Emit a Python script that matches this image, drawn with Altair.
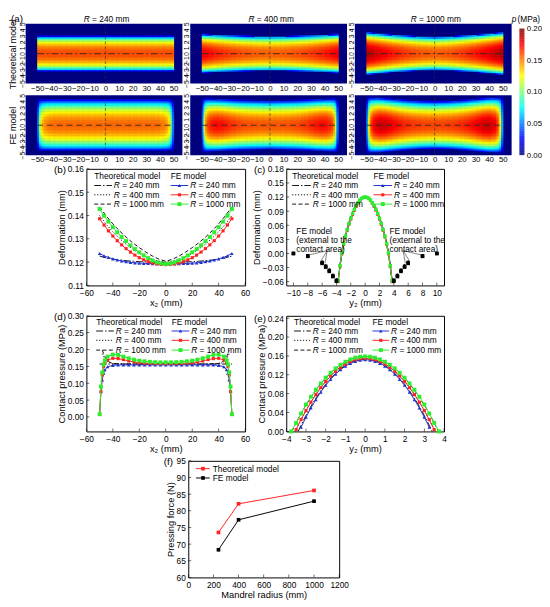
import altair as alt
import numpy as np
import pandas as pd

alt.data_transformers.disable_max_rows()

FONT = "Liberation Sans"
BLUE = "#2233cc"
RED = "#ff2222"
GREEN = "#2cee2c"
THEO = "#111111"
DUMMY = pd.DataFrame({"v": [0]})

# ---------------- (a) pressure maps: centre-line pressure (MPa) and half contact width (mm) ----------------
HX = [-50, -40, -30, -20, -10, 0, 10, 20, 30, 40, 50]
T240_P = [0.160, 0.160, 0.160, 0.160, 0.160, 0.160, 0.160, 0.160, 0.160, 0.160, 0.160]
T240_B = [2.90, 2.90, 2.90, 2.90, 2.90, 2.90, 2.90, 2.90, 2.90, 2.90, 2.90]
T400_P = [0.178, 0.170, 0.164, 0.160, 0.157, 0.156, 0.157, 0.160, 0.164, 0.170, 0.178]
T400_B = [3.20, 3.10, 3.00, 2.92, 2.87, 2.85, 2.87, 2.92, 3.00, 3.10, 3.20]
T1000_P = [0.190, 0.180, 0.171, 0.164, 0.159, 0.157, 0.159, 0.164, 0.171, 0.180, 0.190]
T1000_B = [3.50, 3.30, 3.10, 2.95, 2.82, 2.75, 2.82, 2.95, 3.10, 3.30, 3.50]
FE240_B = [4.30, 4.30, 4.30, 4.30, 4.30, 4.30, 4.30, 4.30, 4.30, 4.30, 4.30]
FE400_B = [4.50, 4.40, 4.30, 4.20, 4.15, 4.10, 4.15, 4.20, 4.30, 4.40, 4.50]
FE1000_B = [4.70, 4.60, 4.40, 4.20, 4.05, 4.00, 4.05, 4.20, 4.40, 4.60, 4.70]
CB_TICKS = [0.0, 0.05, 0.10, 0.15, 0.20]

# ---------------- (b) deformation along x2 ----------------
B_X = [-50, -46.67, -43.33, -40, -36.67, -33.33, -30, -26.67, -23.33, -20, -16.67, -13.33, -10, -6.67, -3.33, 0,
       3.33, 6.67, 10, 13.33, 16.67, 20, 23.33, 26.67, 30, 33.33, 36.67, 40, 43.33, 46.67, 50]
B_FE240 = [0.1237, 0.1227, 0.1220, 0.1214, 0.1209, 0.1205, 0.1202, 0.1199, 0.1197, 0.1196, 0.1195, 0.1194, 0.1193, 0.1193, 0.1192, 0.1192,
           0.1192, 0.1193, 0.1193, 0.1194, 0.1195, 0.1196, 0.1197, 0.1199, 0.1202, 0.1205, 0.1209, 0.1214, 0.1220, 0.1227, 0.1237]
B_FE400 = [0.1386, 0.1359, 0.1334, 0.1312, 0.1292, 0.1274, 0.1258, 0.1243, 0.1230, 0.1219, 0.1210, 0.1202, 0.1196, 0.1192, 0.1190, 0.1189,
           0.1190, 0.1192, 0.1196, 0.1202, 0.1210, 0.1219, 0.1230, 0.1243, 0.1258, 0.1274, 0.1292, 0.1312, 0.1334, 0.1359, 0.1386]
B_FE1000 = [0.1428, 0.1399, 0.1374, 0.1350, 0.1328, 0.1308, 0.1290, 0.1272, 0.1256, 0.1242, 0.1229, 0.1217, 0.1207, 0.1199, 0.1194, 0.1192,
            0.1194, 0.1199, 0.1207, 0.1217, 0.1229, 0.1242, 0.1256, 0.1272, 0.1290, 0.1308, 0.1328, 0.1350, 0.1374, 0.1399, 0.1428]
BT_X = [-50, -45, -40, -35, -30, -25, -20, -15, -10, -5, 0, 5, 10, 15, 20, 25, 30, 35, 40, 45, 50]
BT240 = [0.1226, 0.1218, 0.1213, 0.1209, 0.1206, 0.1204, 0.1202, 0.1201, 0.1200, 0.1199, 0.1199,
         0.1199, 0.1200, 0.1201, 0.1202, 0.1204, 0.1206, 0.1209, 0.1213, 0.1218, 0.1226]
BT400 = [0.1400, 0.1362, 0.1330, 0.1302, 0.1277, 0.1256, 0.1238, 0.1223, 0.1212, 0.1204, 0.1200,
         0.1204, 0.1212, 0.1223, 0.1238, 0.1256, 0.1277, 0.1302, 0.1330, 0.1362, 0.1400]
BT1000 = [0.1437, 0.1398, 0.1364, 0.1334, 0.1307, 0.1283, 0.1262, 0.1243, 0.1226, 0.1212, 0.1204,
          0.1212, 0.1226, 0.1243, 0.1262, 0.1283, 0.1307, 0.1334, 0.1364, 0.1398, 0.1437]

# ---------------- (c) deformation along y2 ----------------
C_Y = [-3.75, -3.5, -3.25, -3.0, -2.75, -2.5, -2.25, -2.0, -1.75, -1.5, -1.25, -1.0, -0.75, -0.5, -0.25, 0,
       0.25, 0.5, 0.75, 1.0, 1.25, 1.5, 1.75, 2.0, 2.25, 2.5, 2.75, 3.0, 3.25, 3.5, 3.75]
C_FE1000 = [-0.058, -0.026, 0.001, 0.021, 0.037, 0.051, 0.064, 0.075, 0.085, 0.094, 0.102, 0.108, 0.1135, 0.1172, 0.1193, 0.1200,
            0.1193, 0.1172, 0.1135, 0.108, 0.102, 0.094, 0.085, 0.075, 0.064, 0.051, 0.037, 0.021, 0.001, -0.026, -0.058]
C_FE400 = [-0.060, -0.028, -0.001, 0.019, 0.035, 0.049, 0.062, 0.073, 0.083, 0.092, 0.100, 0.107, 0.1125, 0.1165, 0.1190, 0.1197,
           0.1190, 0.1165, 0.1125, 0.107, 0.100, 0.092, 0.083, 0.073, 0.062, 0.049, 0.035, 0.019, -0.001, -0.028, -0.060]
C_FE240 = [-0.055, -0.023, 0.003, 0.023, 0.039, 0.053, 0.066, 0.077, 0.087, 0.096, 0.103, 0.109, 0.114, 0.1175, 0.1195, 0.1202,
           0.1195, 0.1175, 0.114, 0.109, 0.103, 0.096, 0.087, 0.077, 0.066, 0.053, 0.039, 0.023, 0.003, -0.023, -0.055]
CT_Y = [-3.75, -3.5, -3.25, -3.0, -2.5, -2.0, -1.5, -1.0, -0.5, 0, 0.5, 1.0, 1.5, 2.0, 2.5, 3.0, 3.25, 3.5, 3.75]
CT240 = [-0.056, -0.025, 0.002, 0.022, 0.052, 0.076, 0.095, 0.108, 0.117, 0.1202, 0.117, 0.108, 0.095, 0.076, 0.052, 0.022, 0.002, -0.025, -0.056]
CT400 = [-0.058, -0.027, 0.000, 0.020, 0.050, 0.074, 0.093, 0.107, 0.1168, 0.1200, 0.1168, 0.107, 0.093, 0.074, 0.050, 0.020, 0.000, -0.027, -0.058]
CT1000 = [-0.060, -0.029, -0.002, 0.018, 0.048, 0.072, 0.092, 0.106, 0.1165, 0.1198, 0.1165, 0.106, 0.092, 0.072, 0.048, 0.018, -0.002, -0.029, -0.060]
C_EXT_Y = [-10, -8, -6, -5.5, -5, -4.5, -4, 4, 4.5, 5, 5.5, 6, 8, 10]
C_EXT240 = [0.001, -0.004, -0.017, -0.025, -0.034, -0.045, -0.055, -0.055, -0.045, -0.034, -0.025, -0.017, -0.004, 0.001]
C_EXT400 = [0.000, -0.005, -0.019, -0.027, -0.036, -0.047, -0.057, -0.057, -0.047, -0.036, -0.027, -0.019, -0.005, 0.000]
C_EXT1000 = [0.000, -0.006, -0.021, -0.029, -0.038, -0.049, -0.059, -0.059, -0.049, -0.038, -0.029, -0.021, -0.006, 0.000]
ANN_X1 = [-5.3, -5.3, -5.3, 5.3, 5.3, 5.3]
ANN_Y1 = [0.006, 0.006, 0.006, 0.006, 0.006, 0.006]
ANN_X2 = [-7.8, -6.1, -5.6, 7.8, 6.1, 5.6]
ANN_Y2 = [-0.003, -0.014, -0.021, -0.003, -0.014, -0.021]
ANN_TEXT = "FE model\n(external to the\ncontact area)"

# ---------------- (d) contact pressure along x2 ----------------
D_X = [-50, -49, -48, -47, -46, -44, -40, -36, -32, -28, -24, -20, -16, -12, -8, -4, 0,
       4, 8, 12, 16, 20, 24, 28, 32, 36, 40, 44, 46, 47, 48, 49, 50]
D_FE240 = [0.008, 0.077, 0.110, 0.130, 0.140, 0.149, 0.153, 0.1545, 0.1545, 0.1545, 0.1545, 0.1545, 0.1545, 0.1545, 0.1545, 0.1545, 0.1545,
           0.1545, 0.1545, 0.1545, 0.1545, 0.1545, 0.1545, 0.1545, 0.1545, 0.1545, 0.153, 0.149, 0.140, 0.130, 0.110, 0.077, 0.008]
D_FE400 = [0.008, 0.075, 0.125, 0.150, 0.160, 0.169, 0.174, 0.173, 0.170, 0.166, 0.163, 0.161, 0.1595, 0.1588, 0.1583, 0.158, 0.158,
           0.158, 0.1583, 0.1588, 0.1595, 0.161, 0.163, 0.166, 0.170, 0.173, 0.174, 0.169, 0.160, 0.150, 0.125, 0.075, 0.008]
D_FE1000 = [0.008, 0.090, 0.132, 0.156, 0.168, 0.179, 0.185, 0.184, 0.179, 0.174, 0.170, 0.167, 0.165, 0.1635, 0.1625, 0.162, 0.162,
            0.162, 0.1625, 0.1635, 0.165, 0.167, 0.170, 0.174, 0.179, 0.184, 0.185, 0.179, 0.168, 0.156, 0.132, 0.090, 0.008]
DT240_X = [-50, 50]
DT240 = [0.157, 0.157]
DT_X = [-48, -47, -46, -45, -44, -42, -40, -30, 0, 30, 40, 42, 44, 45, 46, 47, 48]
DT400 = [0.188, 0.180, 0.173, 0.168, 0.164, 0.160, 0.158, 0.157, 0.157, 0.157, 0.158, 0.160, 0.164, 0.168, 0.173, 0.180, 0.188]
DT1000 = [0.198, 0.188, 0.179, 0.172, 0.167, 0.162, 0.159, 0.157, 0.157, 0.157, 0.159, 0.162, 0.167, 0.172, 0.179, 0.188, 0.198]

# ---------------- (e) contact pressure along y2 ----------------
E_Y1000 = [-3.75, -3.5, -3.25, -3.0, -2.75, -2.5, -2.25, -2.0, -1.75, -1.5, -1.25, -1.0, -0.75, -0.5, -0.25, 0,
           0.25, 0.5, 0.75, 1.0, 1.25, 1.5, 1.75, 2.0, 2.25, 2.5, 2.75, 3.0, 3.25, 3.5, 3.75]
E_FE1000 = [0.000, 0.018, 0.038, 0.057, 0.0735, 0.0883, 0.1018, 0.1138, 0.1244, 0.1336, 0.1413, 0.1477, 0.1526, 0.1562, 0.1583, 0.159,
            0.1583, 0.1562, 0.1526, 0.1477, 0.1413, 0.1336, 0.1244, 0.1138, 0.1018, 0.0883, 0.0735, 0.057, 0.038, 0.018, 0.000]
E_Y400 = [-3.5, -3.25, -3.0, -2.75, -2.5, -2.25, -2.0, -1.75, -1.5, -1.25, -1.0, -0.75, -0.5, -0.25, 0,
          0.25, 0.5, 0.75, 1.0, 1.25, 1.5, 1.75, 2.0, 2.25, 2.5, 2.75, 3.0, 3.25, 3.5]
E_FE400 = [0.004, 0.0251, 0.0443, 0.0620, 0.0781, 0.0927, 0.1058, 0.1173, 0.1273, 0.1358, 0.1427, 0.1481, 0.1519, 0.1542, 0.155,
           0.1542, 0.1519, 0.1481, 0.1427, 0.1358, 0.1273, 0.1173, 0.1058, 0.0927, 0.0781, 0.0620, 0.0443, 0.0251, 0.004]
E_Y240 = [-3.25, -3.0, -2.75, -2.5, -2.25, -2.0, -1.75, -1.5, -1.25, -1.0, -0.75, -0.5, -0.25, 0,
          0.25, 0.5, 0.75, 1.0, 1.25, 1.5, 1.75, 2.0, 2.25, 2.5, 2.75, 3.0, 3.25]
E_FE240 = [0.0089, 0.0301, 0.0496, 0.0674, 0.0834, 0.0978, 0.1105, 0.1215, 0.1308, 0.1385, 0.1444, 0.1486, 0.1512, 0.152,
           0.1512, 0.1486, 0.1444, 0.1385, 0.1308, 0.1215, 0.1105, 0.0978, 0.0834, 0.0674, 0.0496, 0.0301, 0.0089]
ET240_X = [-3.4, -3.0, -2.5, -2.0, -1.5, -1.0, -0.5, 0, 0.5, 1.0, 1.5, 2.0, 2.5, 3.0, 3.4]
ET240 = [0.0, 0.0339, 0.0703, 0.1000, 0.1232, 0.1398, 0.1497, 0.153, 0.1497, 0.1398, 0.1232, 0.1000, 0.0703, 0.0339, 0.0]
ET400_X = [-3.55, -3.0, -2.5, -2.0, -1.5, -1.0, -0.5, 0, 0.5, 1.0, 1.5, 2.0, 2.5, 3.0, 3.55]
ET400 = [0.0, 0.0446, 0.0786, 0.1065, 0.1282, 0.1436, 0.1529, 0.156, 0.1529, 0.1436, 0.1282, 0.1065, 0.0786, 0.0446, 0.0]
ET1000_X = [-3.72, -3.5, -3.0, -2.5, -2.0, -1.5, -1.0, -0.5, 0, 0.5, 1.0, 1.5, 2.0, 2.5, 3.0, 3.5, 3.72]
ET1000 = [0.0, 0.0183, 0.0556, 0.0872, 0.1130, 0.1331, 0.1475, 0.1561, 0.159, 0.1561, 0.1475, 0.1331, 0.1130, 0.0872, 0.0556, 0.0183, 0.0]

# ---------------- (f) pressing force ----------------
F_R = [240, 400, 1000]
F_THEO = [73.5, 82.1, 86.1]
F_FE = [68.3, 77.3, 82.9]

# ---------------- axis tick values ----------------
TX_B = [-60, -40, -20, 0, 20, 40, 60]
TY_B = [0.11, 0.12, 0.13, 0.14, 0.15, 0.16]
TX_C = [-10, -8, -6, -4, -2, 0, 2, 4, 6, 8, 10]
TY_C = [-0.06, -0.03, 0.0, 0.03, 0.06, 0.09, 0.12, 0.15, 0.18]
TY_D = [0.0, 0.05, 0.10, 0.15, 0.20, 0.25, 0.30]
TX_E = [-4, -3, -2, -1, 0, 1, 2, 3, 4]
TY_E = [0.0, 0.04, 0.08, 0.12, 0.16, 0.20, 0.24]
TX_F = [0, 200, 400, 600, 800, 1000, 1200]
TY_F = [60, 65, 70, 75, 80, 85, 90, 95]

DASH240 = [7, 2, 1.5, 2]
DASH400 = [1.2, 1.8]
DASH1000 = [4, 2.5]

# ================= helpers =================
def txt(s, x, y, size=8.5, italic=False, align="left", baseline="middle", color="black"):
    kw = dict(text=s, fontSize=size, align=align, baseline=baseline, color=color, font=FONT)
    if italic:
        kw["fontStyle"] = "italic"
    return alt.Chart(DUMMY).mark_text(**kw).encode(x=alt.value(x), y=alt.value(y))


def seg(x1, x2, y, color, dash=None, width=1.0):
    kw = dict(color=color, strokeWidth=width)
    if dash:
        kw["strokeDash"] = dash
    return alt.Chart(DUMMY).mark_rule(**kw).encode(x=alt.value(x1), x2=alt.value(x2), y=alt.value(y))


def dot(x, y, color, shape, size):
    return alt.Chart(DUMMY).mark_point(shape=shape, filled=True, size=size, color=color, opacity=1).encode(
        x=alt.value(x), y=alt.value(y))


def series(xs, ys, X, Y, color, dash=None, width=1.0, shape=None, size=14, interp="linear", line=True):
    df = pd.DataFrame({"x": xs, "y": ys})
    out = []
    if line:
        kw = dict(color=color, strokeWidth=width, interpolate=interp)
        if dash:
            kw["strokeDash"] = dash
        out.append(alt.Chart(df).mark_line(**kw).encode(x=X, y=Y))
    if shape:
        out.append(alt.Chart(df).mark_point(shape=shape, filled=True, size=size, color=color, opacity=1).encode(x=X, y=Y))
    return out


def inner_ticks(X, Y, xvals, yvals, h):
    return [
        alt.Chart(pd.DataFrame({"x": xvals})).mark_tick(orient="vertical", size=3, thickness=0.8, color="black").encode(
            x=X, y=alt.value(h - 1.5)),
        alt.Chart(pd.DataFrame({"y": yvals})).mark_tick(orient="horizontal", size=3, thickness=0.8, color="black").encode(
            y=Y, x=alt.value(1.5)),
    ]


FE_STYLE = [(BLUE, "triangle-up", 14), (RED, "square", 10), (GREEN, "square", 16)]
TH_DASH = [DASH240, DASH400, DASH1000]
R_TXT = ["= 240 mm", "= 400 mm", "= 1000 mm"]


def legend_block(th_x, fe_x, y_head, rows, line_len=18):
    L = [txt("Theoretical model", th_x, y_head), txt("FE model", fe_x, y_head)]
    for k, yy in enumerate(rows):
        L.append(seg(th_x, th_x + line_len, yy, THEO, TH_DASH[k]))
        L.append(txt("R", th_x + line_len + 2, yy, italic=True))
        L.append(txt(R_TXT[k], th_x + line_len + 10.5, yy))
        col, shp, sz = FE_STYLE[k]
        L.append(seg(fe_x, fe_x + line_len, yy, col))
        L.append(dot(fe_x + line_len / 2, yy, col, shp, sz))
        L.append(txt("R", fe_x + line_len + 2, yy, italic=True))
        L.append(txt(R_TXT[k], fe_x + line_len + 10.5, yy))
    return L


AXS = dict(labelFontSize=8.5, titleFontSize=9.5, titleFontWeight="normal", labelPadding=3, titlePadding=1,
           ticks=False, domain=False, grid=False, labelOverlap=False, labelFlush=False)


def qx(dom, vals, fmt, title):
    return alt.X("x:Q", scale=alt.Scale(domain=dom, nice=False, zero=False),
                 axis=alt.Axis(values=vals, format=fmt, title=title, **AXS))


def qy(dom, vals, fmt, title):
    return alt.Y("y:Q", scale=alt.Scale(domain=dom, nice=False, zero=False),
                 axis=alt.Axis(values=vals, format=fmt, title=title, **AXS))


def spacer(w, h=1):
    return alt.Chart(DUMMY).mark_point(opacity=0).encode(
        x=alt.X("v:Q", axis=None), y=alt.Y("v:Q", axis=None)
    ).properties(width=w, height=h, view=alt.ViewBackground(strokeOpacity=0))


# ================= (a) heat maps =================
def heat_cells(px, pv, bx, bv, theory):
    xe = np.linspace(-50.0, 50.0, 81)
    ye = np.linspace(-5.0, 5.0, 41)
    recs = []
    for i in range(len(xe) - 1):
        xc = 0.5 * (xe[i] + xe[i + 1])
        p0 = float(np.interp(xc, px, pv))
        b = float(np.interp(xc, bx, bv))
        for j in range(len(ye) - 1):
            yc = 0.5 * (ye[j] + ye[j + 1])
            r = 1.0 - (yc / b) ** 2
            if r <= 0:
                continue
            p = p0 * (r ** 0.5 if theory else r ** 0.7)
            if p < 0.004:
                continue
            recs.append((round(xe[i], 3), round(xe[i + 1] + 0.4, 3), round(ye[j], 3), round(ye[j + 1] + 0.08, 3), round(p, 4)))
    return pd.DataFrame(recs, columns=["x0", "x1", "y0", "y1", "p"])


JET = alt.Scale(domain=[0, 0.025, 0.075, 0.125, 0.175, 0.2],
                range=["#00007f", "#0000ff", "#00ffff", "#ffff00", "#ff0000", "#7f0000"],
                interpolate="rgb", clamp=True)
HW, HH = 160, 61
HXS = alt.Scale(domain=[-58.5, 56.5], nice=False, zero=False)
HYS = alt.Scale(domain=[-5, 5], nice=False, zero=False)
H_LINE = pd.DataFrame({"x": [-50], "x2": [50], "y": [0]})
V_LINE = pd.DataFrame({"x": [0], "y": [-5], "y2": [5]})


def heatmap(df, theory, ytitle=None, extra=()):
    XA = alt.Axis(values=list(range(-50, 51, 10)), format="d", labelFontSize=8, labelPadding=1, ticks=False,
                  domain=False, grid=False, labelOverlap=False, labelFlush=False, title=None)
    ykw = dict(values=list(range(-5, 6)), format="d", labelAngle=270, labelAlign="center", labelBaseline="bottom",
               labelFontSize=7, labelPadding=0.5, ticks=False, domain=False, grid=False, labelOverlap=False,
               labelFlush=False)
    if ytitle:
        ykw.update(title=ytitle, titleFontSize=9, titleFontWeight="normal", titlePadding=0.5)
    else:
        ykw["title"] = None
    YA = alt.Axis(**ykw)
    X = alt.X("x0:Q", scale=HXS, axis=XA)
    Y = alt.Y("y0:Q", scale=HYS, axis=YA)
    rect = alt.Chart(df).mark_rect(strokeWidth=0).encode(
        x=X, x2="x1:Q", y=Y, y2="y1:Q", color=alt.Color("p:Q", scale=JET, legend=None))
    hl = alt.Chart(H_LINE).mark_rule(color="#2a2a2a", strokeWidth=0.9,
                                     strokeDash=[7, 3, 1.5, 3] if theory else [6, 4]).encode(
        x=alt.X("x:Q", scale=HXS, axis=XA), x2="x2:Q", y=alt.Y("y:Q", scale=HYS, axis=YA))
    vl = alt.Chart(V_LINE).mark_rule(color="#2a2a2a", strokeWidth=0.6, strokeDash=[3, 2]).encode(
        x=alt.X("x:Q", scale=HXS, axis=XA), y=alt.Y("y:Q", scale=HYS, axis=YA), y2="y2:Q")
    return alt.layer(rect, hl, vl, *extra).properties(
        width=HW, height=HH, view=alt.ViewBackground(fill="#00007f", stroke="#00007f", strokeWidth=0))


def r_title(val, cx=83, y=-5):
    rest = "= %s mm" % val
    w = 6.2 + 4.3 + 4.6 * len(rest)
    x0 = cx - w / 2
    return [txt("R", x0, y, italic=True), txt(rest, x0 + 8.5, y)]


h1 = heatmap(heat_cells(HX, T240_P, HX, T240_B, True), True, "Theoretical model",
             extra=r_title(240) + [txt("(a)", -15, -5, size=10)])
h2 = heatmap(heat_cells(HX, T400_P, HX, T400_B, True), True, None, extra=r_title(400))
h3 = heatmap(heat_cells(HX, T1000_P, HX, T1000_B, True), True, None, extra=r_title(1000))
h4 = heatmap(heat_cells(D_X, D_FE240, HX, FE240_B, False), False, "FE model")
h5 = heatmap(heat_cells(D_X, D_FE400, HX, FE400_B, False), False, None)
h6 = heatmap(heat_cells(D_X, D_FE1000, HX, FE1000_B, False), False, None)
grid6 = alt.concat(h1, h2, h3, h4, h5, h6, columns=3, spacing={"row": 1, "column": 0})

# colour bar drawn as its own small chart
CB_H, CB_TOP = 134, 5
cb_vals = np.round(np.arange(0.0, 0.2, 0.001), 4)
cb_df = pd.DataFrame({"v": cb_vals, "v2": np.round(cb_vals + 0.0012, 4)})
cbar = alt.layer(
    alt.Chart(cb_df).mark_rect(strokeWidth=0).encode(
        x=alt.value(0), x2=alt.value(5),
        y=alt.Y("v:Q", scale=alt.Scale(domain=[0, 0.2 * CB_H / (CB_H - CB_TOP)], nice=False, zero=False),
                axis=alt.Axis(orient="right", values=CB_TICKS, format=".2f", labelFontSize=8, labelPadding=2,
                              ticks=False, domain=False, grid=False, title=None, labelOverlap=False,
                              labelFlush=False)),
        y2="v2:Q", color=alt.Color("v:Q", scale=JET, legend=None)),
    txt("p", -8, -5, italic=True),
    txt("(MPa)", -2, -5),
).properties(width=5, height=CB_H, view=alt.ViewBackground(strokeOpacity=0))

rowA = alt.hconcat(grid6, cbar, spacing=0)

# ================= (b) =================
HB = 119
XB = qx([-60, 60], TX_B, "d", "x₂ (mm)")
YB = qy([0.11, 0.16], TY_B, ".2f", "Deformation (mm)")
pb = alt.layer(
    *inner_ticks(XB, YB, TX_B, TY_B, HB),
    *series(BT_X, BT240, XB, YB, THEO, dash=DASH240),
    *series(BT_X, BT400, XB, YB, THEO, dash=DASH400),
    *series(BT_X, BT1000, XB, YB, THEO, dash=DASH1000),
    *series(B_X, B_FE240, XB, YB, BLUE, shape="triangle-up", size=14),
    *series(B_X, B_FE400, XB, YB, RED, shape="square", size=10),
    *series(B_X, B_FE1000, XB, YB, GREEN, shape="square", size=16),
    *legend_block(8, 86, 7, [17, 26.5, 36]),
    txt("(b)", -33, 1, size=10),
).properties(width=162, height=HB)

# ================= (c) =================
HC = 119
XC = qx([-11, 11], TX_C, "d", "y₂ (mm)")
YC = qy([-0.068, 0.18], TY_C, ".2f", "Deformation (mm)")
ann = pd.DataFrame({"x": ANN_X1, "y": ANN_Y1, "x2": ANN_X2, "y2": ANN_Y2})
ann_t = pd.DataFrame({"x": [-9.6, 3.4], "y": [0.057, 0.057], "t": [ANN_TEXT, ANN_TEXT]})
pc = alt.layer(
    *inner_ticks(XC, YC, TX_C, TY_C, HC),
    *series(CT_Y, CT240, XC, YC, THEO, dash=DASH240, interp="monotone"),
    *series(CT_Y, CT400, XC, YC, THEO, dash=DASH400, interp="monotone"),
    *series(CT_Y, CT1000, XC, YC, THEO, dash=DASH1000, interp="monotone"),
    *series(C_Y, C_FE240, XC, YC, BLUE, shape="triangle-up", size=12),
    *series(C_Y, C_FE400, XC, YC, RED, shape="square", size=9),
    *series(C_Y, C_FE1000, XC, YC, GREEN, shape="square", size=12),
    *series(C_EXT_Y, C_EXT240, XC, YC, "black", shape="triangle-up", size=14, line=False),
    *series(C_EXT_Y, C_EXT400, XC, YC, "black", shape="square", size=12, line=False),
    *series(C_EXT_Y, C_EXT1000, XC, YC, "black", shape="square", size=14, line=False),
    alt.Chart(ann).mark_rule(color="#333333", strokeWidth=0.6).encode(x=XC, y=YC, x2="x2:Q", y2="y2:Q"),
    alt.Chart(ann_t).mark_text(align="left", baseline="top", fontSize=8.5, lineBreak="\n", lineHeight=9.5,
                               font=FONT, color="black").encode(x=XC, y=YC, text="t:N"),
    *legend_block(6, 89, 7, [17, 26.5, 36], line_len=19),
    txt("(c)", -33, 1, size=10),
).properties(width=161, height=HC)

# ================= (d) =================
HD = 118
XD = qx([-60, 60], TX_B, "d", "x₂ (mm)")
YD = qy([-0.043, 0.30], TY_D, ".2f", "Contact pressure (MPa)")
pd_ = alt.layer(
    *inner_ticks(XD, YD, TX_B, TY_D, HD),
    *series(DT240_X, DT240, XD, YD, THEO, dash=DASH240),
    *series(DT_X, DT400, XD, YD, THEO, dash=DASH400, interp="monotone"),
    *series(DT_X, DT1000, XD, YD, THEO, dash=DASH1000, interp="monotone"),
    *series(D_X, D_FE240, XD, YD, BLUE, shape="triangle-up", size=14),
    *series(D_X, D_FE400, XD, YD, RED, shape="square", size=10),
    *series(D_X, D_FE1000, XD, YD, GREEN, shape="square", size=16),
    *legend_block(10, 87, 6, [15.5, 25, 35]),
    txt("(d)", -33, 1, size=10),
).properties(width=162, height=HD)

# ================= (e) =================
HE = 118
XE = qx([-4, 4], TX_E, "d", "y₂ (mm)")
YE = qy([0, 0.245], TY_E, ".2f", "Contact pressure (MPa)")
pe = alt.layer(
    *inner_ticks(XE, YE, TX_E, TY_E, HE),
    *series(ET240_X, ET240, XE, YE, THEO, dash=DASH240, interp="monotone"),
    *series(ET400_X, ET400, XE, YE, THEO, dash=DASH400, interp="monotone"),
    *series(ET1000_X, ET1000, XE, YE, THEO, dash=DASH1000, interp="monotone"),
    *series(E_Y240, E_FE240, XE, YE, BLUE, shape="triangle-up", size=14),
    *series(E_Y400, E_FE400, XE, YE, RED, shape="square", size=10),
    *series(E_Y1000, E_FE1000, XE, YE, GREEN, shape="square", size=16),
    *legend_block(8, 88, 6, [15.5, 25, 35], line_len=17),
    txt("(e)", -33, 3, size=10),
).properties(width=161, height=HE)

rowBC = alt.concat(spacer(29), pb, pc, spacer(29), pd_, pe, columns=3, spacing={"row": 3, "column": -1})

# ================= (f) =================
HF = 119
XF = qx([0, 1200], TX_F, "d", "Mandrel radius (mm)")
YF = qy([60, 95], TY_F, "d", "Pressing force (N)")
pf = alt.layer(
    *inner_ticks(XF, YF, TX_F, TY_F, HF),
    *series(F_R, F_THEO, XF, YF, RED, shape="square", size=14),
    *series(F_R, F_FE, XF, YF, "black", shape="square", size=14),
    seg(8, 22, 8, RED), dot(15, 8, RED, "square", 14), txt("Theoretical model", 25, 8),
    seg(8, 22, 17.5, "black"), dot(15, 17.5, "black", "square", 14), txt("FE model", 25, 17.5),
    txt("(f)", -25, 1, size=10),
).properties(width=154, height=HF)

rowD = alt.hconcat(spacer(140), pf, spacing=0)

upper = alt.vconcat(rowA, rowBC, spacing=0)
chart = alt.vconcat(upper, rowD, spacing=2, padding=0).configure_view(
    stroke="black", strokeWidth=1
).configure_axis(
    labelFont=FONT, titleFont=FONT, labelColor="black", titleColor="black"
).configure_text(font=FONT)

chart.save("out.html", embed_options={"renderer": "svg", "actions": False})
